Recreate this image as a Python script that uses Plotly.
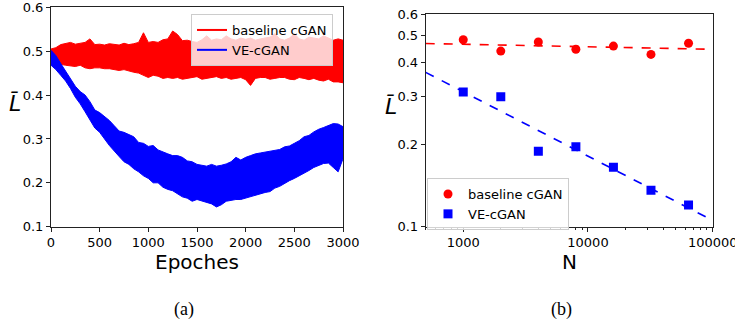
import numpy as np
import plotly.graph_objects as go

# ---------------- data: panel (a) ----------------
epochs = list(range(0, 3001, 50))
baseline_upper = [0.505, 0.508, 0.515, 0.518, 0.520, 0.516, 0.518, 0.520, 0.528, 0.515,
                  0.516, 0.514, 0.517, 0.515, 0.514, 0.518, 0.515, 0.517, 0.520, 0.542,
                  0.520, 0.522, 0.520, 0.526, 0.528, 0.546, 0.538, 0.524, 0.525, 0.522,
                  0.520, 0.526, 0.535, 0.525, 0.528, 0.526, 0.535, 0.528, 0.525, 0.530,
                  0.527, 0.530, 0.525, 0.528, 0.530, 0.532, 0.540, 0.528, 0.525, 0.530,
                  0.540, 0.528, 0.525, 0.532, 0.530, 0.528, 0.535, 0.530, 0.525, 0.528, 0.525]
baseline_lower = [0.478, 0.472, 0.470, 0.468, 0.466, 0.465, 0.468, 0.462, 0.460, 0.462,
                  0.462, 0.460, 0.460, 0.458, 0.456, 0.458, 0.455, 0.452, 0.450, 0.445,
                  0.440, 0.445, 0.443, 0.438, 0.440, 0.438, 0.440, 0.436, 0.438, 0.440,
                  0.442, 0.436, 0.438, 0.440, 0.442, 0.438, 0.440, 0.436, 0.438, 0.440,
                  0.435, 0.422, 0.438, 0.440, 0.440, 0.436, 0.438, 0.440, 0.440, 0.436,
                  0.435, 0.440, 0.438, 0.435, 0.438, 0.434, 0.432, 0.436, 0.430, 0.430, 0.428]
ve_upper = [0.502, 0.490, 0.472, 0.455, 0.440, 0.420, 0.408, 0.400, 0.385, 0.366,
            0.360, 0.352, 0.342, 0.330, 0.318, 0.315, 0.310, 0.305, 0.292, 0.290,
            0.283, 0.285, 0.275, 0.270, 0.266, 0.262, 0.262, 0.258, 0.250, 0.248,
            0.242, 0.240, 0.238, 0.242, 0.238, 0.240, 0.243, 0.248, 0.258, 0.252,
            0.258, 0.262, 0.266, 0.268, 0.270, 0.272, 0.274, 0.276, 0.282, 0.284,
            0.290, 0.296, 0.305, 0.308, 0.316, 0.322, 0.326, 0.330, 0.335, 0.334, 0.328]
ve_lower = [0.468, 0.458, 0.445, 0.432, 0.415, 0.395, 0.380, 0.362, 0.345, 0.325,
            0.315, 0.300, 0.285, 0.272, 0.260, 0.248, 0.242, 0.232, 0.225, 0.216,
            0.210, 0.200, 0.200, 0.190, 0.185, 0.182, 0.175, 0.168, 0.165, 0.158,
            0.162, 0.158, 0.155, 0.152, 0.145, 0.150, 0.158, 0.160, 0.162, 0.162,
            0.165, 0.168, 0.172, 0.175, 0.178, 0.180, 0.188, 0.192, 0.198, 0.205,
            0.210, 0.215, 0.222, 0.228, 0.235, 0.240, 0.244, 0.245, 0.235, 0.225, 0.255]
a_xticks = [0, 500, 1000, 1500, 2000, 2500, 3000]
a_yticks = [0.1, 0.2, 0.3, 0.4, 0.5, 0.6]

# ---------------- data: panel (b) ----------------
N = [1000, 2000, 4000, 8000, 16000, 32000, 64000]
baseline_L = [0.483, 0.439, 0.474, 0.446, 0.458, 0.427, 0.469]
ve_L = [0.311, 0.299, 0.189, 0.196, 0.165, 0.136, 0.120]
fit_span = [500, 100000]
b_xticks = [1000, 10000, 100000]
b_xticklabels = ["1000", "10000", "100000"]
b_yticks = [0.1, 0.2, 0.3, 0.4, 0.5, 0.6]
b_yticklabels = ["0.1", "0.2", "0.3", "0.4", "0.5", "0.6"]
b_minor = [m * 10 ** e for e in (2, 3, 4) for m in range(2, 10) if 500 <= m * 10 ** e <= 100000]

RED = "#ff0000"
BLUE = "#0000ff"
FONT = "DejaVu Sans"

W, H = 735, 323


def px(x):
    return min(1.0, max(0.0, x / W))


def py(y):
    return min(1.0, max(0.0, 1 - y / H))


fig = go.Figure()


def band(x, up, lo, color):
    return go.Scatter(x=list(x) + list(x)[::-1], y=list(up) + list(lo)[::-1],
                      fill="toself", fillcolor=color, mode="lines",
                      line=dict(color=color, width=1), showlegend=False,
                      hoverinfo="skip", xaxis="x", yaxis="y")


fig.add_trace(band(epochs, baseline_upper, baseline_lower, RED))
fig.add_trace(band(epochs, ve_upper, ve_lower, BLUE))
# legend entries for panel (a)
fig.add_trace(go.Scatter(x=[None], y=[None], mode="lines", line=dict(color=RED, width=2),
                         name="baseline cGAN", legend="legend", xaxis="x", yaxis="y"))
fig.add_trace(go.Scatter(x=[None], y=[None], mode="lines", line=dict(color=BLUE, width=2),
                         name="VE-cGAN", legend="legend", xaxis="x", yaxis="y"))


# panel (b): least-squares power-law fits
def fit_line(xv, yv):
    p = np.polyfit(np.log10(xv), np.log10(yv), 1)
    xs = np.array(fit_span, dtype=float)
    return xs, 10 ** np.polyval(p, np.log10(xs))


fx, fy = fit_line(N, baseline_L)
fig.add_trace(go.Scatter(x=fx, y=fy, mode="lines", line=dict(color=RED, width=1.6, dash="dash"),
                         showlegend=False, xaxis="x2", yaxis="y2"))
fx, fy = fit_line(N, ve_L)
fig.add_trace(go.Scatter(x=fx, y=fy, mode="lines", line=dict(color=BLUE, width=1.6, dash="dash"),
                         showlegend=False, xaxis="x2", yaxis="y2"))
fig.add_trace(go.Scatter(x=N, y=baseline_L, mode="markers", name="baseline cGAN",
                         marker=dict(color=RED, size=9, symbol="circle"),
                         legend="legend2", xaxis="x2", yaxis="y2"))
fig.add_trace(go.Scatter(x=N, y=ve_L, mode="markers", name="VE-cGAN",
                         marker=dict(color=BLUE, size=9, symbol="square"),
                         legend="legend2", xaxis="x2", yaxis="y2"))

axcommon = dict(showline=True, mirror=True, linecolor="#222", linewidth=1,
                ticks="outside", ticklen=4, tickwidth=1, tickcolor="#222",
                showgrid=False, zeroline=False, automargin=False,
                ticklabeloverflow="allow",
                tickfont=dict(family=FONT, size=13, color="#000"))


def ann(text, x, y, size, family=FONT):
    return dict(text=text, x=px(x), y=py(y), xref="paper", yref="paper",
                xanchor="center", yanchor="middle", showarrow=False,
                font=dict(family=family, size=size, color="#000"))


fig.update_layout(
    width=W, height=H, margin=dict(l=0, r=0, t=0, b=0, pad=0, autoexpand=False),
    paper_bgcolor="white", plot_bgcolor="white",
    font=dict(family=FONT, color="#000"),
    xaxis=dict(domain=[px(51), px(343)], anchor="y", range=[0, 3000],
               tickvals=a_xticks, **axcommon),
    yaxis=dict(domain=[py(226.7), py(7.3)], anchor="x", range=[0.1, 0.6],
               tickvals=a_yticks, tickformat=".1f", **axcommon),
    xaxis2=dict(domain=[px(425.7), px(712.7)], anchor="y2", type="log",
                range=[np.log10(fit_span[0]), np.log10(fit_span[1])],
                tickvals=b_xticks, ticktext=b_xticklabels,
                minor=dict(tickvals=b_minor, ticks="outside", ticklen=2, tickcolor="#222", showgrid=False),
                **axcommon),
    yaxis2=dict(domain=[py(226.7), py(14)], anchor="x2", type="log",
                range=[-1, np.log10(0.6)], tickvals=b_yticks, ticktext=b_yticklabels,
                **axcommon),
    legend=dict(x=px(191), y=py(14), xanchor="left", yanchor="top",
                bgcolor="rgba(255,255,255,0.8)", bordercolor="#cccccc", borderwidth=1,
                font=dict(family=FONT, size=13), itemwidth=30, tracegroupgap=0),
    legend2=dict(x=px(427), y=py(178), xanchor="left", yanchor="top",
                 bgcolor="rgba(255,255,255,0.8)", bordercolor="#cccccc", borderwidth=1,
                 font=dict(family=FONT, size=13), itemwidth=30, tracegroupgap=0),
    annotations=[
        ann("Epoches", 197, 262, 20),
        ann("N", 569, 262, 20),
        ann("<i>L\u0304</i>", 15, 104, 22),
        ann("<i>L\u0304</i>", 391, 106, 22),
        ann("(a)", 184, 309, 18, "Liberation Serif"),
        ann("(b)", 561, 309, 18, "Liberation Serif"),
    ],
)

# remove the browser's default 8px page margin so the figure fills the window
fig.write_html("out.html", config={"displayModeBar": False},
               post_script="document.body.style.margin='0';document.body.style.overflow='hidden';")
